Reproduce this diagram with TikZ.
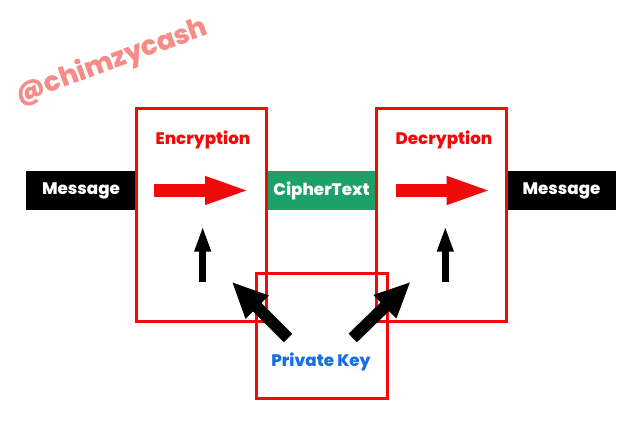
\documentclass[tikz,border=0pt]{standalone}
\usepackage{fontspec}
\setmainfont{Poppins}
\IfFontExistsTF{Poppins ExtraBold}
  {\newfontfamily\heavy{Poppins ExtraBold}\newcommand\heavysize{16.7}}
  {\newfontfamily\heavy{Poppins}[UprightFont=* Bold]\newcommand\heavysize{17.5}}
\usetikzlibrary{arrows.meta}
\definecolor{boxred}{RGB}{240,10,10}
\definecolor{cipgreen}{RGB}{30,160,105}
\definecolor{keyblue}{RGB}{25,110,230}
\definecolor{wmpink}{RGB}{245,140,135}
\tikzset{
  bar/.style={inner sep=0pt, text=white, font=\heavy\fontsize{\heavysize}{20}\selectfont, minimum height=39},
  redbox/.style={draw=boxred, line width=3pt, inner sep=0pt},
  boxtitle/.style={text=boxred, font=\heavy\fontsize{\heavysize}{20}\selectfont, inner sep=0pt},
  redarrow/.style={draw=boxred, line width=13pt, -{Triangle[length=46pt,width=25pt]}},
  uparrow/.style={draw=black, line width=7pt, -{Triangle[length=26pt,width=15pt]}},
  diagarrow/.style={draw=black, line width=12pt, -{Triangle[length=36pt,width=30pt]}},
}
\begin{document}
\begin{tikzpicture}[x=1pt,y=-1pt]
\useasboundingbox (0,0) rectangle (640,427);
\fill[white] (0,0) rectangle (640,427);
% watermark
\node[text=wmpink, font=\heavy\fontsize{27}{32}\selectfont, rotate=20, inner sep=0pt] (wm) at (112,62) {@chimzycash};
% bars
\node[bar, fill=black, minimum width=111] (msgL) at (81,190.5) {Message};
\node[bar, fill=cipgreen, minimum width=109] (cipher) at (321.5,190.5) {CipherText};
\node[bar, fill=black, minimum width=109] (msgR) at (561.5,190.5) {Message};
% boxes
\node[redbox, minimum width=130, minimum height=213] (enc) at (201.85,215.5) {};
\node[redbox, minimum width=130, minimum height=213] (dec) at (441.85,215.5) {};
\node[redbox, minimum width=131, minimum height=125] (key) at (321.5,336.5) {};
% titles
\node[boxtitle] (encT) at (203,140) {Encryption};
\node[boxtitle] (decT) at (444,140) {Decryption};
\node[boxtitle, text=keyblue] (keyT) at (321,362) {Private Key};
% arrow coordinates
\coordinate (encA1) at (154,190.5);
\coordinate (encA2) at (251,190.5);
\coordinate (decA1) at (395.7,190.5);
\coordinate (decA2) at (492.7,190.5);
\coordinate (encU1) at (202.7,281.7);
\coordinate (encU2) at (202.7,225.7);
\coordinate (decU1) at (445.3,281.7);
\coordinate (decU2) at (445.3,225.7);
\coordinate (keyL1) at (288,338);
\coordinate (keyL2) at (231.7,281.7);
\coordinate (keyR1) at (352.7,338);
\coordinate (keyR2) at (410.7,281.7);
% arrows
\draw[redarrow] (encA1) -- (encA2);
\draw[redarrow] (decA1) -- (decA2);
\draw[uparrow] (encU1) -- (encU2);
\draw[uparrow] (decU1) -- (decU2);
\draw[diagarrow] (keyL1) -- (keyL2);
\draw[diagarrow] (keyR1) -- (keyR2);
\end{tikzpicture}
\end{document}
